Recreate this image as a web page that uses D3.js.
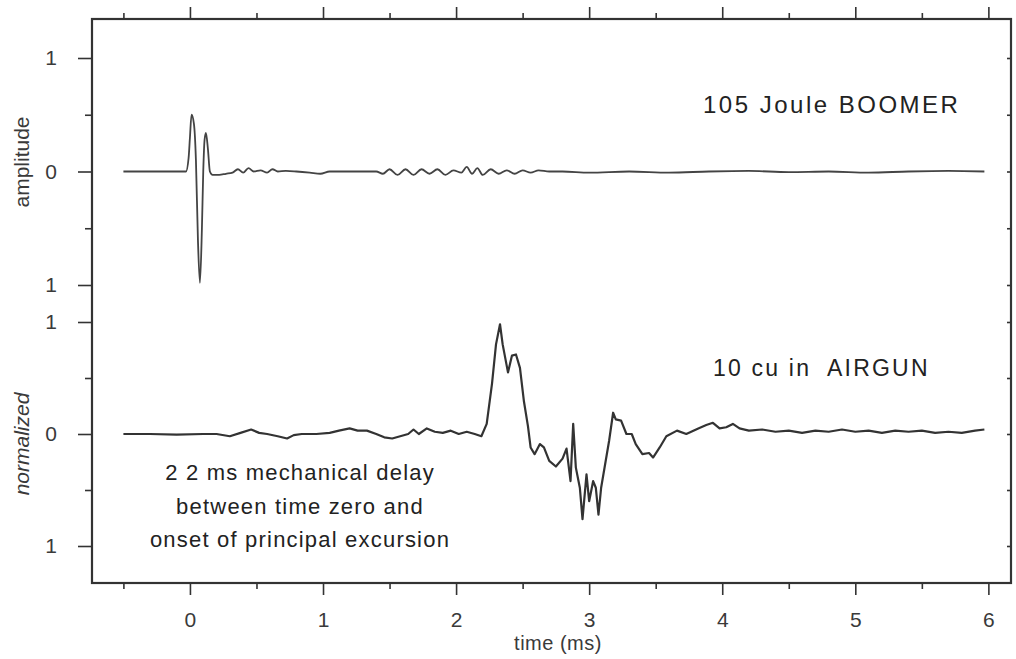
<!DOCTYPE html>
<html>
<head>
<meta charset="utf-8">
<script src="https://cdn.jsdelivr.net/npm/d3@7"></script>
<style>
  body { margin: 0; background: #fff; }
  text { font-family: "Liberation Sans", Arial, sans-serif; fill: #3a3a3a; }
</style>
</head>
<body>
<div id="chart"></div>
<script>
// boomer trace (upper panel), time in ms, normalized amplitude
const boomerT = [-0.5, -0.3, -0.1, -0.03, -0.01, 0.0, 0.012, 0.03, 0.045, 0.06, 0.075, 0.09, 0.1, 0.11, 0.12, 0.135, 0.15, 0.17,
  0.22, 0.27, 0.32, 0.36, 0.40, 0.44, 0.48, 0.53, 0.58, 0.62, 0.66, 0.72, 0.8, 0.9, 0.98, 1.05, 1.4,
  1.45, 1.5, 1.56, 1.62, 1.68, 1.74, 1.8, 1.86, 1.92, 1.98, 2.04, 2.08, 2.12, 2.16, 2.2, 2.26, 2.32, 2.38, 2.44, 2.5, 2.56, 2.62, 2.7,
  2.8, 3.0, 3.3, 3.6, 3.9, 4.2, 4.5, 4.8, 5.1, 5.4, 5.7, 5.97];
const boomerA = [0, 0, 0, 0, 0.12, 0.3, 0.5, 0.42, 0.1, -0.6, -0.98, -0.5, 0.0, 0.28, 0.34, 0.2, 0.0, -0.03,
  -0.03, -0.02, -0.01, 0.02, -0.01, 0.03, 0.0, 0.01, -0.01, 0.02, 0.0, 0.005, 0, -0.01, -0.02, 0.0, 0,
  -0.02, 0.02, -0.03, 0.02, -0.03, 0.02, -0.02, 0.02, -0.03, 0.01, -0.01, 0.04, -0.02, 0.03, -0.03, 0.02, -0.02, 0.01, -0.02, 0.01, -0.01, 0.01, 0.0,
  0.0, -0.01, 0.0, -0.01, 0.0, 0.005, -0.005, 0.0, -0.01, 0.0, 0.005, 0.0];

// airgun trace (lower panel)
const airgunT = [-0.5, -0.3, -0.1, 0.1, 0.2, 0.3, 0.38, 0.46, 0.52, 0.58, 0.66, 0.73, 0.78, 0.84, 0.95, 1.05, 1.12, 1.2, 1.26, 1.33,
  1.4, 1.46, 1.52, 1.58, 1.64, 1.68, 1.72, 1.78, 1.84, 1.9, 1.96, 2.02, 2.08, 2.14, 2.19,
  2.23, 2.27, 2.30, 2.33, 2.35, 2.39, 2.42, 2.45, 2.48, 2.51, 2.54, 2.56, 2.59, 2.63, 2.66, 2.70, 2.75, 2.80, 2.83, 2.86, 2.88, 2.90,
  2.93, 2.95, 2.98, 3.0, 3.03, 3.05, 3.07, 3.09, 3.12, 3.15, 3.18, 3.20, 3.24, 3.28, 3.32, 3.35, 3.40, 3.45, 3.48, 3.53, 3.58, 3.66,
  3.73, 3.82, 3.88, 3.93, 3.98, 4.03, 4.08, 4.13, 4.2, 4.3, 4.4, 4.5, 4.6, 4.7, 4.8, 4.9, 5.0, 5.1, 5.2, 5.3, 5.4, 5.5, 5.6, 5.7, 5.8, 5.9, 5.97];
const airgunA = [0, 0, -0.005, 0.0, 0.0, -0.02, 0.01, 0.04, 0.01, 0.0, -0.02, -0.04, -0.01, 0.0, 0.0, 0.01, 0.03, 0.05, 0.03, 0.03,
  0.0, -0.03, -0.04, -0.02, 0.0, 0.04, 0.0, 0.05, 0.02, 0.01, 0.03, 0.0, 0.02, 0.0, -0.02,
  0.09, 0.45, 0.8, 0.98, 0.8, 0.55, 0.7, 0.71, 0.59, 0.29, 0.07, -0.12, -0.18, -0.09, -0.12, -0.24, -0.29, -0.22, -0.13, -0.42, 0.09, -0.3,
  -0.48, -0.76, -0.36, -0.6, -0.42, -0.48, -0.72, -0.48, -0.27, -0.06, 0.19, 0.13, 0.12, 0.0, 0.0, -0.09, -0.18, -0.17, -0.21, -0.12, -0.02, 0.03,
  0.0, 0.05, 0.08, 0.1, 0.05, 0.06, 0.09, 0.05, 0.03, 0.04, 0.02, 0.03, 0.01, 0.03, 0.02, 0.04, 0.02, 0.03, 0.01, 0.03, 0.02, 0.03, 0.01, 0.02, 0.01, 0.03, 0.04];

const xMajor = [0, 1, 2, 3, 4, 5, 6];
const xMinor = [-0.5, 0.5, 1.5, 2.5, 3.5, 4.5, 5.5];
const yMajor = [-1, 0, 1];
const yMinor = [-0.5, 0.5];
const yLabels = { "-1": "1", "0": "0", "1": "1" }; // minus signs lost in the original print

const width = 1016, height = 659;
const svg = d3.select("#chart").append("svg").attr("width", width).attr("height", height);

const x = d3.scaleLinear().domain([-0.736, 6.17]).range([92, 1011]);
const yTop = d3.scaleLinear().domain([-1, 1]).range([285, 58]);
const yBot = d3.scaleLinear().domain([-1, 1]).range([546, 322]);
const frameTop = 19, frameBottom = 583;

// frame
svg.append("rect")
  .attr("x", x.range()[0]).attr("y", frameTop)
  .attr("width", x.range()[1] - x.range()[0]).attr("height", frameBottom - frameTop)
  .attr("fill", "none").attr("stroke", "#333").attr("stroke-width", 2.2);

function styleAxis(g) {
  g.select(".domain").remove();
  g.selectAll("line").attr("stroke", "#333").attr("stroke-width", 1.6);
  g.selectAll("text").attr("font-size", 21).attr("fill", "#3a3a3a");
}

// bottom axis
svg.append("g").attr("transform", `translate(0,${frameBottom})`)
  .call(d3.axisBottom(x).tickValues(xMajor).tickSize(12).tickPadding(17).tickFormat(d3.format("d")))
  .call(styleAxis).call(g => g.selectAll("text").attr("font-family", "Liberation Sans, Arial, sans-serif"));
svg.append("g").attr("transform", `translate(0,${frameBottom})`)
  .call(d3.axisBottom(x).tickValues(xMinor).tickSize(6).tickFormat(""))
  .call(styleAxis);

// top axis (ticks only)
svg.append("g").attr("transform", `translate(0,${frameTop})`)
  .call(d3.axisTop(x).tickValues(xMajor).tickSize(12).tickFormat(""))
  .call(styleAxis);
svg.append("g").attr("transform", `translate(0,${frameTop})`)
  .call(d3.axisTop(x).tickValues(xMinor).tickSize(6).tickFormat(""))
  .call(styleAxis);

// left axes, one per panel
[yTop, yBot].forEach(y => {
  svg.append("g").attr("transform", `translate(${x.range()[0]},0)`)
    .call(d3.axisLeft(y).tickValues(yMajor).tickSize(14).tickPadding(21).tickFormat(d => yLabels[d]))
    .call(styleAxis)
    .call(g => g.selectAll("text").attr("font-family", "Liberation Sans, Arial, sans-serif"));
  svg.append("g").attr("transform", `translate(${x.range()[0]},0)`)
    .call(d3.axisLeft(y).tickValues(yMinor).tickSize(7).tickFormat(""))
    .call(styleAxis);
  svg.append("g").attr("transform", `translate(${x.range()[1]},0)`)
    .call(d3.axisRight(y).tickValues(yMajor.concat(yMinor)).tickSize(-4).tickFormat(""))
    .call(styleAxis);
});

// traces
const boomer = boomerT.map((t, i) => [t, boomerA[i]]);
const airgun = airgunT.map((t, i) => [t, airgunA[i]]);

svg.append("path")
  .attr("d", d3.line().curve(d3.curveMonotoneX).x(d => x(d[0])).y(d => yTop(d[1]))(boomer))
  .attr("fill", "none").attr("stroke", "#444").attr("stroke-width", 1.8)
  .attr("stroke-linejoin", "round");

svg.append("path")
  .attr("d", d3.line().x(d => x(d[0])).y(d => yBot(d[1]))(airgun))
  .attr("fill", "none").attr("stroke", "#333").attr("stroke-width", 2.2)
  .attr("stroke-linejoin", "round");

// axis titles
svg.append("text")
  .attr("transform", `translate(29,162) rotate(-90)`)
  .attr("text-anchor", "middle").attr("font-size", 21)
  .text("amplitude");
svg.append("text")
  .attr("transform", `translate(29,444) rotate(-90)`)
  .attr("text-anchor", "middle").attr("font-size", 21).attr("font-style", "italic")
  .text("normalized");
svg.append("text")
  .attr("x", 558).attr("y", 650)
  .attr("text-anchor", "middle").attr("font-size", 20).attr("letter-spacing", 0.5)
  .text("time (ms)");

// panel labels
svg.append("text")
  .attr("x", 703).attr("y", 113)
  .attr("font-size", 24).attr("letter-spacing", 2.5).style("fill", "#222")
  .text("105 Joule BOOMER");
svg.append("text")
  .attr("x", 713).attr("y", 376)
  .attr("font-size", 23).attr("letter-spacing", 2.2).style("fill", "#222")
  .attr("xml:space", "preserve")
  .text("10 cu in  AIRGUN");

// annotation
const note = ["2 2 ms mechanical delay", "between time zero and", "onset of principal excursion"];
svg.append("g").selectAll("text").data(note).join("text")
  .attr("x", 300).attr("y", (d, i) => 480 + i * 33.5)
  .attr("text-anchor", "middle").attr("font-size", 22).attr("letter-spacing", 1.2).style("fill", "#222")
  .text(d => d);
</script>
</body>
</html>
